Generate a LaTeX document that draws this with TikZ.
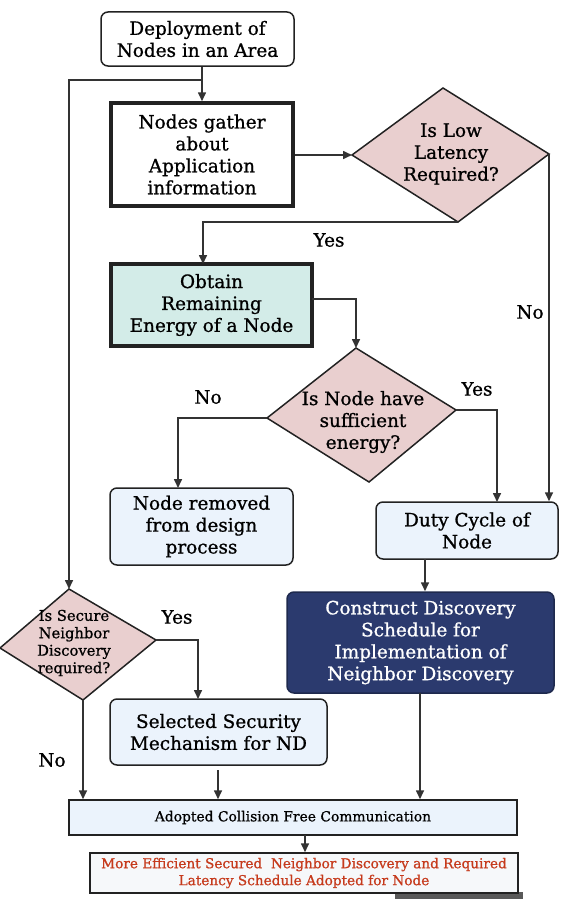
\documentclass[tikz,border=0pt]{standalone}
\usepackage{fontspec}
\setmainfont{DejaVu Serif}[FakeBold=0.9]
\usetikzlibrary{arrows.meta,calc}
\definecolor{linec}{HTML}{333333}
\definecolor{edgec}{HTML}{222222}
\definecolor{pinkf}{HTML}{E9CFCF}
\definecolor{tealf}{HTML}{D3ECE8}
\definecolor{bluef}{HTML}{EBF3FC}
\definecolor{navyf}{HTML}{2B3A6E}
\definecolor{redt}{HTML}{C63A1C}
\definecolor{finalf}{HTML}{F6F8FA}
\newcommand{\mainfnt}{\fontsize{18.5}{22}\selectfont}
\newcommand{\smallfnt}{\fontsize{14.8}{17.5}\selectfont}
\newcommand{\tinyfnt}{\fontsize{13.9}{17}\selectfont}
\newcommand{\redfnt}{\fontsize{13.7}{17}\selectfont}
\begin{document}
\begin{tikzpicture}[x=1bp,y=-1bp,
  base/.style={align=center, inner sep=0pt, font=\mainfnt, text=black},
  thinbox/.style={base, draw=edgec, line width=1.5bp},
  thickbox/.style={base, draw=edgec, line width=3.5bp},
  roundbox/.style={thinbox, rounded corners=7bp},
  dia/.style={draw=edgec, line width=1.5bp, fill=pinkf, line join=miter},
  lbl/.style={base},
  arr/.style={draw=linec, line width=1.6bp, -{Triangle[length=9bp,width=8bp]}},
  ln/.style={draw=linec, line width=1.6bp}
]
\useasboundingbox (0,0) rectangle (567,899);

% boxes
\node[roundbox, fill=white, minimum width=193bp, minimum height=54bp] (dep) at (197.5,39) {Deployment of\\Nodes in an Area};
\node[thickbox, fill=white, minimum width=182bp, minimum height=103bp] (gather) at (202,154.5) {Nodes gather\\about\\Application\\information};
\node[thickbox, fill=tealf, minimum width=201bp, minimum height=82bp] (obtain) at (211.5,305) {Obtain\\Remaining\\Energy of a Node};
\node[roundbox, fill=bluef, minimum width=183bp, minimum height=77bp] (removed) at (201.5,526.5) {Node removed\\from design\\process};
\node[roundbox, fill=bluef, minimum width=182bp, minimum height=57bp] (duty) at (467,530.5) {Duty Cycle of\\Node};
\node[roundbox, draw=navyf!70!black, fill=navyf, text=white, minimum width=267bp, minimum height=101bp] (construct) at (420.5,642.5) {Construct Discovery\\Schedule for\\Implementation of\\Neighbor Discovery};
\node[roundbox, fill=bluef, minimum width=217bp, minimum height=66bp] (selected) at (218.5,732) {Selected Security\\Mechanism for ND};
\node[thinbox, fill=bluef, font=\tinyfnt, minimum width=448bp, minimum height=35bp] (adopted) at (293,817.5) {Adopted Collision Free Communication};
\fill[black!65] (395,892) rectangle (523,899);
\node[thinbox, fill=finalf, font=\redfnt, text=redt, minimum width=428bp, minimum height=40bp] (final) at (304,873) {More Efficient Secured\ \ Neighbor Discovery and Required\\Latency Schedule Adopted for Node};

% diamonds
\coordinate (d1t) at (443,88);
\coordinate (d1r) at (549,154);
\coordinate (d1b) at (458,222);
\coordinate (d1l) at (352,155);
\draw[dia] (d1t) -- (d1r) -- (d1b) -- (d1l) -- cycle;
\node[base] (d1) at (451,154) {Is Low\\Latency\\Required?};

\coordinate (d2t) at (356,348);
\coordinate (d2r) at (456,410);
\coordinate (d2b) at (369,482);
\coordinate (d2l) at (267,418);
\draw[dia] (d2t) -- (d2r) -- (d2b) -- (d2l) -- cycle;
\node[base] (d2) at (363,422) {Is Node have\\sufficient\\energy?};

\coordinate (d3t) at (69,589);
\coordinate (d3r) at (156,640);
\coordinate (d3b) at (83,700);
\coordinate (d3l) at (0,648);
\draw[dia] (d3t) -- (d3r) -- (d3b) -- (d3l) -- cycle;
\node[base, font=\smallfnt] (d3) at (74,643) {Is Secure\\Neighbor\\Discovery\\required?};

% labels
\node[lbl] (yes1) at (329,240) {Yes};
\node[lbl] (no1) at (530,312) {No};
\node[lbl] (no2) at (208,397) {No};
\node[lbl] (yes2) at (477,389) {Yes};
\node[lbl] (yes3) at (177,617) {Yes};
\node[lbl] (no3) at (52,760) {No};

% connectors
\coordinate (j1) at (202,80);
\draw[arr] (dep.south -| gather.north) -- (gather.north);
\draw[arr] (j1) -| (d3t);
\draw[arr] (gather.east |- d1l) -- (d1l);
\coordinate (obtin) at (203,264);
\draw[arr] (d1b) -| (obtin);
\draw[arr] (d1r) -- (d1r |- duty.north);
\coordinate (obtout) at (312,299);
\draw[arr] (obtout) -| (d2t);
\coordinate (remin) at (178,488);
\draw[arr] (d2l) -| (remin);
\coordinate (dutyin) at (497,502);
\draw[arr] (d2r) -| (dutyin);
\coordinate (dutyout) at (425,559);
\draw[arr] (dutyout) -- (dutyout |- construct.north);
\coordinate (selin) at (198,699);
\draw[arr] (d3r) -| (selin);
\draw[arr] (d3b) -- (d3b |- adopted.north);
\coordinate (selout) at (218,770);
\draw[arr] (selout) -- (selout |- adopted.north);
\coordinate (conout) at (420,693);
\draw[arr] (conout) -- (conout |- adopted.north);
\coordinate (adout) at (305,835);
\draw[arr] (adout) -- (adout |- final.north);
\end{tikzpicture}
\end{document}
